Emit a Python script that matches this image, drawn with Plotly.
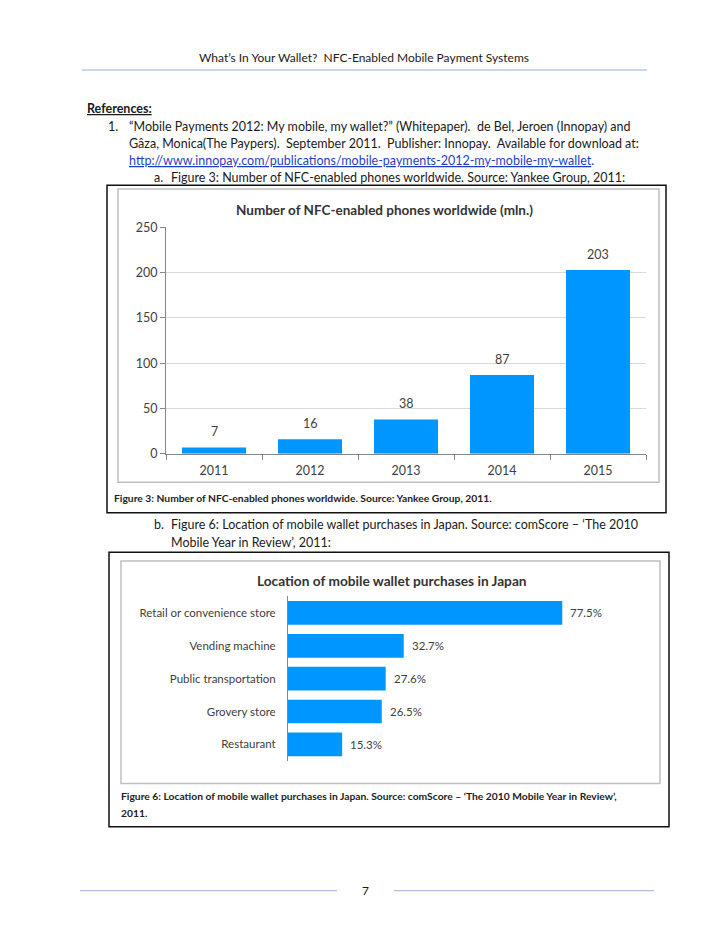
import plotly.graph_objects as go

# ---------------- data ----------------
years = ["2011", "2012", "2013", "2014", "2015"]
phones_mln = [7, 16, 38, 87, 203]
y1_ticks = [0, 50, 100, 150, 200, 250]

locations = ["Retail or convenience store", "Vending machine", "Public transportation",
             "Grovery store", "Restaurant"]
share_pct = [77.5, 32.7, 27.6, 26.5, 15.3]

title1 = "Number of NFC-enabled phones worldwide (mln.)"
title2 = "Location of mobile wallet purchases in Japan"

W, H = 728, 943
FONT = "Lato"
BLUE = "#0096FF"
AX = "#404040"


def fx(px):
    return px / W


def fy(py):
    return 1 - py / H


fig = go.Figure()

fig.add_trace(go.Bar(x=years, y=phones_mln, marker=dict(color=BLUE, line=dict(width=0)),
                     width=0.667, xaxis="x", yaxis="y", hoverinfo="x+y"))
fig.add_trace(go.Bar(y=locations, x=share_pct, orientation="h",
                     marker=dict(color=BLUE, line=dict(width=0)),
                     width=0.72, xaxis="x2", yaxis="y2", hoverinfo="x+y"))

ann = []
# data labels chart 1 (category index positions)
for i, v in enumerate(phones_mln):
    ann.append(dict(x=i, y=v, xref="x", yref="y", text=str(v), showarrow=False,
                    yanchor="bottom", yshift=6, font=dict(family=FONT, size=12.5, color=AX)))
# data labels chart 2
for i, v in enumerate(share_pct):
    ann.append(dict(x=v, y=i, xref="x2", yref="y2", text=f"{v}%", showarrow=False,
                    xanchor="left", xshift=6, font=dict(family=FONT, size=11.5, color=AX)))


def txt(x, y, s, size=12.5, color="#1a1a1a", anchor="left"):
    ann.append(dict(x=fx(x), y=fy(y), xref="paper", yref="paper", text=s, showarrow=False,
                    xanchor=anchor, yanchor="middle", font=dict(family=FONT, size=size, color=color)))


txt(364, 50, "What’s In Your Wallet?  NFC-Enabled Mobile Payment Systems", 12, anchor="center")
txt(85, 102, "<b><u>References:</u></b>")
txt(106, 120, "1.")
txt(127, 120, "“Mobile Payments 2012: My mobile, my wallet?” (Whitepaper).  de Bel, Jeroen (Innopay) and")
txt(127, 138, "Gâza, Monica(The Paypers).  September 2011.  Publisher: Innopay.  Available for download at:")
txt(127, 155, "<u>http://www.innopay.com/publications/mobile-payments-2012-my-mobile-my-wallet</u>.",
    color="#1f3fc0")
txt(152, 172, "a.")
txt(169, 172, "Figure 3: Number of NFC-enabled phones worldwide. Source: Yankee Group, 2011:")
txt(152, 525, "b.")
txt(169, 525, "Figure 6: Location of mobile wallet purchases in Japan. Source: comScore – ‘The 2010")
txt(169, 543, "Mobile Year in Review’, 2011:")

txt(384, 205, f"<b>{title1}</b>", 13.5, color="#333333", anchor="center")
txt(392, 582, f"<b>{title2}</b>", 13.7, color="#333333", anchor="center")
txt(112, 498, "<b>Figure 3: Number of NFC-enabled phones worldwide. Source: Yankee Group, 2011.</b>",
    10.3, color="#222222")
txt(119, 801, "<b>Figure 6: Location of mobile wallet purchases in Japan. Source: comScore – ‘The 2010 Mobile Year in Review’,</b>",
    10.3, color="#222222")
txt(119, 818, "<b>2011.</b>", 10.3, color="#222222")
txt(365, 897, "7", 12, anchor="center")

shapes = []


def rect(x0, y0, x1, y1, color, w):
    shapes.append(dict(type="rect", xref="paper", yref="paper", x0=fx(x0), x1=fx(x1),
                       y0=fy(y1), y1=fy(y0), line=dict(color=color, width=w)))


def hline(x0, x1, y, color="#95B3D7", w=1):
    shapes.append(dict(type="line", xref="paper", yref="paper", x0=fx(x0), x1=fx(x1),
                       y0=fy(y), y1=fy(y), line=dict(color=color, width=w)))


hline(82, 647, 63)
hline(80, 337, 897)
hline(394, 654, 897)
rect(107, 180, 666, 513, "#111111", 1.5)
rect(118, 184, 659, 482, "#BFBFBF", 1.5)
rect(109, 553, 669, 832, "#111111", 1.5)
rect(121, 562, 660, 788, "#BFBFBF", 1.5)

fig.update_layout(
    width=W, height=H, margin=dict(l=0, r=0, t=0, b=0),
    paper_bgcolor="white", plot_bgcolor="rgba(0,0,0,0)",
    showlegend=False, annotations=ann, shapes=shapes,
    font=dict(family=FONT, color=AX),
    xaxis=dict(domain=[fx(166), fx(646)], type="category", range=[-0.5, 4.5],
               showgrid=False, showline=True, linecolor="#868686", linewidth=1,
               ticks="outside", tickson="boundaries", ticklen=5, tickcolor="#868686",
               ticklabelstandoff=5,
               tickfont=dict(family=FONT, size=12.5, color=AX), fixedrange=True),
    yaxis=dict(domain=[fy(453), fy(223)], range=[0, 250], tickvals=y1_ticks,
               showgrid=True, gridcolor="#D9D9D9", gridwidth=1, zeroline=False,
               showline=True, linecolor="#868686", linewidth=1,
               ticks="outside", ticklen=5, tickcolor="#868686",
               tickfont=dict(family=FONT, size=12.5, color=AX), fixedrange=True),
    xaxis2=dict(domain=[fx(288), fx(650)], range=[0, 102.3], anchor="y2",
                showgrid=False, showticklabels=False, zeroline=False, showline=False,
                fixedrange=True),
    yaxis2=dict(domain=[fy(765), fy(598)], anchor="x2", type="category",
                range=[4.5, -0.5], showgrid=False, showline=True,
                linecolor="#868686", linewidth=1, ticks="outside", ticklen=9,
                tickcolor="rgba(0,0,0,0)",
                tickfont=dict(family=FONT, size=11.5, color=AX), fixedrange=True),
)

fig.write_html("out.html", config={"displayModeBar": False},
               post_script="document.body.style.margin='0';")
